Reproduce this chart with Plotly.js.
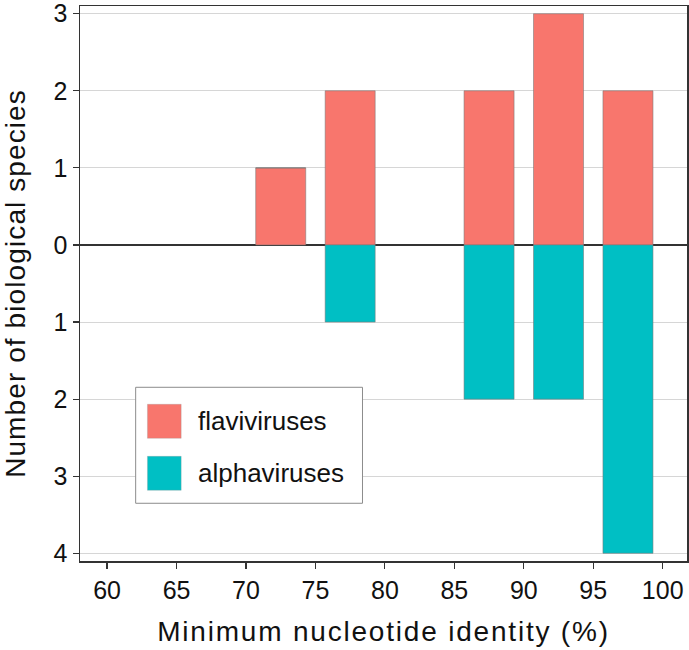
<!DOCTYPE html>
<html>
<head>
<meta charset="utf-8">
<script src="https://cdn.plot.ly/plotly-3.0.1.min.js"></script>
<style>
html,body{margin:0;padding:0;background:#fff;}
#chart{width:689px;height:650px;}
.xtitle{letter-spacing:1.8px;}
.ytitle{letter-spacing:1.1px;}
</style>
</head>
<body>
<div id="chart"></div>
<script>
const binCenters = [72.5, 77.5, 87.5, 92.5, 97.5];
const flaviviruses = [1, 2, 2, 3, 2];
const alphaviruses = [0, 1, 2, 2, 4];
const yTickVals = [-4, -3, -2, -1, 0, 1, 2, 3];
const yTickText = ["4", "3", "2", "1", "0", "1", "2", "3"];
const xTickVals = [60, 65, 70, 75, 80, 85, 90, 95, 100];
const seriesNames = ["flaviviruses", "alphaviruses"];
const colors = ["#F8766D", "#00BFC4"];

const font = "Liberation Sans, Arial, sans-serif";
const traces = [
  {type: "bar", x: binCenters, y: flaviviruses, name: seriesNames[0], width: 3.6,
   marker: {color: colors[0], line: {color: "rgba(120,120,120,0.7)", width: 0.8}}, showlegend: false},
  {type: "bar", x: binCenters, y: alphaviruses.map(v => -v), name: seriesNames[1], width: 3.6,
   marker: {color: colors[1], line: {color: "rgba(120,120,120,0.7)", width: 0.8}}, showlegend: false}
];

// legend drawn as paper-space decoration (plot area spans y 6..561 px)
const lx0 = 0.0917, lx1 = 0.4654, ly0 = 0.1040, ly1 = 0.3130;
const sq = [{y0: 0.2211, y1: 0.2824, ty: 0.252}, {y0: 0.1274, y1: 0.1886, ty: 0.158}];
const shapes = [
  {type: "rect", xref: "paper", yref: "paper", x0: lx0, x1: lx1, y0: ly0, y1: ly1,
   line: {color: "#8c8c8c", width: 1}, fillcolor: "#ffffff", layer: "above"}
];
const annotations = [];
seriesNames.forEach((n, i) => {
  shapes.push({type: "rect", xref: "paper", yref: "paper", x0: 0.1111, x1: 0.1667, y0: sq[i].y0, y1: sq[i].y1,
    line: {color: "rgba(150,150,150,0.5)", width: 0.6}, fillcolor: colors[i], layer: "above"});
  annotations.push({xref: "paper", yref: "paper", x: 0.1909, y: sq[i].ty, xanchor: "left", yanchor: "middle",
    text: n, showarrow: false, font: {family: font, size: 26, color: "#111"}});
});

const layout = {
  width: 689, height: 650,
  margin: {l: 80, r: 2, t: 6, b: 89},
  paper_bgcolor: "#fff", plot_bgcolor: "#fff",
  barmode: "relative",
  showlegend: false,
  font: {family: font, color: "#111"},
  xaxis: {
    range: [58.05, 101.75], tickvals: xTickVals, ticks: "outside", ticklen: 6, tickwidth: 1.2, tickcolor: "#333",
    showgrid: false, zeroline: false, showline: true, linecolor: "#333", linewidth: 1.5, mirror: true,
    tickfont: {size: 25, color: "#111"}, ticklabeloverflow: "allow",
    title: {text: "Minimum nucleotide identity (%)", font: {size: 28, color: "#111"}, standoff: 19}
  },
  yaxis: {
    range: [-4.1, 3.1], tickvals: yTickVals, ticktext: yTickText, ticks: "outside", ticklen: 6, tickwidth: 1.2, tickcolor: "#333",
    showgrid: true, gridcolor: "#d6d6d6", gridwidth: 1,
    zeroline: true, zerolinecolor: "#333", zerolinewidth: 1.2,
    showline: true, linecolor: "#333", linewidth: 1.5, mirror: true,
    tickfont: {size: 25, color: "#111"}, ticklabeloverflow: "allow",
    title: {text: "Number of biological species", font: {size: 28, color: "#111"}, standoff: 23}
  },
  shapes: shapes,
  annotations: annotations
};
Plotly.newPlot("chart", traces, layout, {staticPlot: true, displayModeBar: false});
</script>
</body>
</html>
